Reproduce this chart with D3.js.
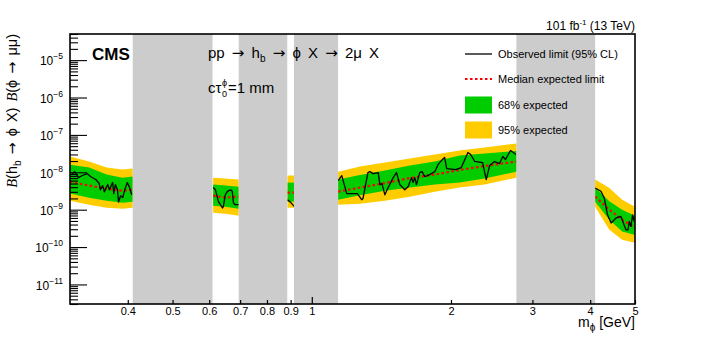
<!DOCTYPE html>
<html>
<head>
<meta charset="utf-8">
<title>h_b to phi X limits, ctau = 1 mm</title>
<style>
  body { margin: 0; background: white; }
  svg { display: block; font-family: "Liberation Sans", Arial, sans-serif; }
  .arr { font-family: "DejaVu Sans", sans-serif; }
</style>
</head>
<body>
<svg id="chart" width="706" height="338"></svg>
<script src="https://d3js.org/d3.v7.min.js"></script>
<script>
// expected limit and bands (mass grid in GeV)
const massExp = [0.30, 0.33, 0.36, 0.39, 0.41,
                 0.612, 0.65, 0.695,
                 0.886, 0.901, 0.916,
                 1.14, 1.271, 1.439, 1.629, 1.845, 2.088, 2.364, 2.772,
                 4.10, 4.40, 4.69, 5.0];
const expMedian = [5.6e-9, 4.4e-9, 3.65e-9, 3.2e-9, 3.4e-9,
                   2.37e-9, 2.1e-9, 2.24e-9,
                   2.86e-9, 2.86e-9, 2.86e-9,
                   3.04e-9, 3.89e-9, 5.13e-9, 7.0e-9, 8.7e-9, 1.15e-8, 1.47e-8, 1.94e-8,
                   2.24e-9, 1.0e-9, 5.4e-10, 3.3e-10];
const exp1Up = [1.6e-8, 1.34e-8, 8.7e-9, 7.2e-9, 7.7e-9,
                4.7e-9, 4.4e-9, 4.1e-9,
                5.3e-9, 5.3e-9, 5.3e-9,
                6.4e-9, 8.4e-9, 1.11e-8, 1.51e-8, 1.94e-8, 2.81e-8, 3.17e-8, 3.7e-8,
                3.9e-9, 1.67e-9, 1.0e-9, 6.9e-10];
const exp1Down = [2.7e-9, 2.1e-9, 1.74e-9, 1.54e-9, 1.64e-9,
                  1.28e-9, 1.2e-9, 1.06e-9,
                  1.64e-9, 1.64e-9, 1.64e-9,
                  1.85e-9, 2.45e-9, 3.2e-9, 3.89e-9, 4.7e-9, 5.3e-9, 6.8e-9, 1.04e-8,
                  1.64e-9, 5.4e-10, 2.6e-10, 2.1e-10];
const exp2Up = [2.64e-8, 1.94e-8, 1.34e-8, 1.18e-8, 1.26e-8,
                7.2e-9, 6.8e-9, 6.4e-9,
                8.2e-9, 8.2e-9, 8.2e-9,
                1.04e-8, 1.42e-8, 1.82e-8, 2.33e-8, 3.0e-8, 3.82e-8, 4.6e-8, 5.9e-8,
                6.4e-9, 3.8e-9, 1.85e-9, 1.2e-9];
const exp2Down = [1.74e-9, 1.36e-9, 1.13e-9, 1.06e-9, 1.13e-9,
                  8.3e-10, 7.8e-10, 6.9e-10,
                  1.13e-9, 1.13e-9, 1.13e-9,
                  1.36e-9, 1.45e-9, 1.74e-9, 2.23e-9, 3.04e-9, 3.89e-9, 4.7e-9, 7.2e-9,
                  1.2e-9, 2.9e-10, 1.57e-10, 1.3e-10];

// observed limit
const massObs = [0.3025, 0.307, 0.313, 0.319, 0.327, 0.332, 0.341, 0.347, 0.349, 0.353, 0.356, 0.362,
                 0.365, 0.371, 0.373, 0.376, 0.380, 0.382, 0.386, 0.390, 0.394, 0.399, 0.403, 0.408,
                 0.612, 0.619, 0.628, 0.641, 0.644, 0.650, 0.657, 0.667, 0.673, 0.677, 0.683, 0.695,
                 0.886, 0.901, 0.916,
                 1.14, 1.161, 1.190, 1.255, 1.282, 1.290, 1.3225, 1.336, 1.358, 1.392, 1.404, 1.418,
                 1.439, 1.463, 1.500, 1.525, 1.550, 1.589, 1.615, 1.643, 1.656, 1.670, 1.684, 1.712,
                 1.732, 1.755, 1.800, 1.845, 1.875, 1.907, 1.938, 1.958, 2.047, 2.106, 2.176, 2.206,
                 2.250, 2.341, 2.384, 2.424, 2.485, 2.547, 2.589, 2.624, 2.690, 2.765,
                 4.10, 4.22, 4.29, 4.36, 4.44, 4.55, 4.66, 4.78, 4.83, 4.86, 4.90, 4.94, 4.98];
const obsLimit = [8.7e-9, 1.04e-8, 7.2e-9, 8.2e-9, 9.2e-9, 7.7e-9, 6.4e-9, 5.0e-9, 3.4e-9, 4.4e-9, 3.0e-9, 4.7e-9,
                  3.4e-9, 5.3e-9, 2.7e-9, 4.7e-9, 3.4e-9, 1.6e-9, 2.35e-9, 2.1e-9, 3.4e-9, 5.3e-9, 4.1e-9, 2.5e-9,
                  3.9e-9, 3.4e-9, 1.67e-9, 1.11e-9, 1.23e-9, 2.5e-9, 3.1e-9, 3.4e-9, 3.1e-9, 1.51e-9, 1.36e-9, 1.36e-9,
                  1.85e-9, 1.55e-9, 1.23e-9,
                  6.0e-9, 8.15e-9, 2.7e-9, 2.7e-9, 1.85e-9, 1.97e-9, 9.8e-9, 1.04e-8, 9.2e-9, 9.8e-9, 4.7e-9, 5.0e-9,
                  2.5e-9, 3.9e-9, 7.2e-9, 9.8e-9, 4.7e-9, 3.4e-9, 4.1e-9, 7.2e-9, 5.3e-9, 7.2e-9, 4.7e-9, 9.8e-9,
                  1.04e-8, 7.7e-9, 8.7e-9, 1.04e-8, 1.6e-8, 2.06e-8, 2.48e-8, 1.26e-8, 1.18e-8, 1.34e-8, 3.38e-8, 3.0e-8,
                  1.97e-8, 1.82e-8, 6.4e-9, 1.51e-8, 1.94e-8, 1.71e-8, 2.64e-8, 2.2e-8, 3.82e-8, 3.0e-8,
                  3.8e-9, 3.1e-9, 2.06e-9, 7.3e-10, 4.4e-10, 6.0e-10, 6.6e-10, 2.9e-10, 2.9e-10, 4.85e-10, 3.56e-10, 7.3e-10, 4.85e-10];

// mass windows excluded from the search (GeV)
const maskedRanges = [[0.41, 0.61], [0.695, 0.885], [0.915, 1.14], [2.77, 4.1]];

const xTickValues = [0.4, 0.5, 0.6, 0.7, 0.8, 0.9, 1, 2, 3, 4, 5];
const yTickDecades = [-11, -10, -9, -8, -7, -6, -5];
const legendLabels = ["Observed limit (95% CL)", "Median expected limit", "68% expected", "95% expected"];

const width = 706;
const height = 338;
const margin = { top: 34, right: 71, bottom: 34, left: 70 };
const green = "#00cc00";
const yellow = "#ffcc00";
const grey = "#cccccc";
const PHI = "\u03d5";
const ARROW = "\u2192";

const svg = d3.select("#chart");

const x = d3.scaleLog()
  .domain([0.3, 5])
  .range([margin.left, width - margin.right]);
const y = d3.scaleLog()
  .domain([3e-12, 5e-5])
  .range([height - margin.bottom, margin.top]);

// which gap between masked windows a mass point falls in
const segOf = m => maskedRanges.filter(r => r[1] <= m).length;

const expRows = massExp.map((m, i) => ({
  m, seg: segOf(m), med: expMedian[i],
  up1: exp1Up[i], dn1: exp1Down[i], up2: exp2Up[i], dn2: exp2Down[i]
}));
const obsRows = massObs.map((m, i) => ({ m, seg: segOf(m), v: obsLimit[i] }));
const expSegs = d3.groups(expRows, d => d.seg).map(g => g[1]);
const obsSegs = d3.groups(obsRows, d => d.seg).map(g => g[1]);

svg.append("clipPath").attr("id", "frame")
  .append("rect")
  .attr("x", margin.left).attr("y", margin.top)
  .attr("width", width - margin.left - margin.right)
  .attr("height", height - margin.top - margin.bottom);

const plot = svg.append("g").attr("clip-path", "url(#frame)");

const band = (lo, hi) => d3.area()
  .x(d => x(d.m))
  .y0(d => y(d[lo]))
  .y1(d => y(d[hi]));

plot.selectAll(".band2")
  .data(expSegs)
  .enter()
  .append("path")
  .attr("d", band("dn2", "up2"))
  .attr("fill", yellow);

plot.selectAll(".band1")
  .data(expSegs)
  .enter()
  .append("path")
  .attr("d", band("dn1", "up1"))
  .attr("fill", green);

plot.selectAll(".median")
  .data(expSegs)
  .enter()
  .append("path")
  .attr("d", d3.line().x(d => x(d.m)).y(d => y(d.med)))
  .attr("fill", "none")
  .attr("stroke", "#ff0000")
  .attr("stroke-width", 2.2)
  .attr("stroke-dasharray", "2.5,2.5");

plot.selectAll(".obs")
  .data(obsSegs)
  .enter()
  .append("path")
  .attr("d", d3.line().x(d => x(d.m)).y(d => y(d.v)))
  .attr("fill", "none")
  .attr("stroke", "#000")
  .attr("stroke-width", 1.3)
  .attr("stroke-linejoin", "round");

// excluded mass windows
plot.selectAll(".mask")
  .data(maskedRanges)
  .enter()
  .append("rect")
  .attr("x", d => x(d[0]))
  .attr("width", d => x(d[1]) - x(d[0]))
  .attr("y", margin.top)
  .attr("height", height - margin.top - margin.bottom)
  .attr("fill", grey);

// x axis
const xAxis = svg.append("g")
  .attr("transform", `translate(0,${height - margin.bottom})`)
  .call(d3.axisBottom(x)
    .tickValues(xTickValues)
    .tickFormat(d => d)
    .tickSizeInner(-4)
    .tickSizeOuter(0)
    .tickPadding(3));
xAxis.select(".domain").remove();
xAxis.selectAll(".tick line").attr("y2", d => d === 1 ? -7 : -4).attr("stroke-width", 1.2);
xAxis.selectAll(".tick text").attr("font-size", 11).attr("font-family", null).attr("fill", "#000");

// y axis, decades labelled, minor ticks from the scale
const yAxis = svg.append("g")
  .attr("transform", `translate(${margin.left},0)`)
  .call(d3.axisLeft(y)
    .tickValues(y.ticks())
    .tickFormat("")
    .tickSizeInner(-8)
    .tickSizeOuter(0)
    .tickPadding(7));
yAxis.select(".domain").remove();
const isDecade = d => yTickDecades.includes(Math.round(Math.log10(d))) && Math.abs(Math.log10(d) - Math.round(Math.log10(d))) < 1e-6;
yAxis.selectAll(".tick line")
  .attr("x2", d => isDecade(d) ? 17 : 8)
  .attr("stroke-width", 1.1);
yAxis.selectAll(".tick text")
  .attr("font-family", null)
  .attr("fill", "#000")
  .attr("font-size", 12)
  .each(function (d) {
    if (!isDecade(d)) return;
    const t = d3.select(this).text(null).attr("dy", "0.4em");
    t.append("tspan").text("10");
    t.append("tspan").attr("dy", -6).attr("font-size", 8.5).text("\u2212" + Math.abs(Math.round(Math.log10(d))));
  });

// frame
svg.append("rect")
  .attr("x", margin.left).attr("y", margin.top)
  .attr("width", width - margin.left - margin.right)
  .attr("height", height - margin.top - margin.bottom)
  .attr("fill", "none")
  .attr("stroke", "#000")
  .attr("stroke-width", 1.6);

// axis titles
const yTitle = svg.append("text")
  .attr("transform", "rotate(-90)")
  .attr("x", -margin.top)
  .attr("y", 17)
  .attr("text-anchor", "end")
  .attr("word-spacing", 2)
  .attr("font-size", 14.5);
yTitle.append("tspan").attr("font-family", "Liberation Serif").attr("font-style", "italic").text("B");
yTitle.append("tspan").text("(h");
yTitle.append("tspan").attr("dy", 4).attr("font-size", 10).text("b");
yTitle.append("tspan").attr("dy", -4).text(" ");
yTitle.append("tspan").attr("class", "arr").text(ARROW);
yTitle.append("tspan").text(` ${PHI} X) `);
yTitle.append("tspan").attr("font-family", "Liberation Serif").attr("font-style", "italic").text("B");
yTitle.append("tspan").text(`(${PHI} `);
yTitle.append("tspan").attr("class", "arr").text(ARROW);
yTitle.append("tspan").text(" \u03bc\u03bc)");

const xTitle = svg.append("text")
  .attr("x", width - margin.right)
  .attr("y", 327)
  .attr("text-anchor", "end")
  .attr("font-size", 14);
xTitle.append("tspan").text("m");
xTitle.append("tspan").attr("dy", 4).attr("font-size", 10).text(PHI);
xTitle.append("tspan").attr("dy", -4).text(" [GeV]");

// luminosity label
const lumi = svg.append("text")
  .attr("x", width - margin.right)
  .attr("y", 30)
  .attr("text-anchor", "end")
  .attr("font-size", 12);
lumi.append("tspan").text("101 fb");
lumi.append("tspan").attr("dy", -5).attr("font-size", 8).text("-1");
lumi.append("tspan").attr("dy", 5).text(" (13 TeV)");

svg.append("text")
  .attr("x", 92).attr("y", 60)
  .attr("font-size", 17)
  .attr("font-weight", "bold")
  .text("CMS");

const proc = svg.append("text")
  .attr("x", 208).attr("y", 58)
  .attr("word-spacing", 3)
  .attr("font-size", 15);
proc.append("tspan").text("pp ");
proc.append("tspan").attr("class", "arr").text(ARROW);
proc.append("tspan").text(" h");
proc.append("tspan").attr("dy", 4).attr("font-size", 10).text("b");
proc.append("tspan").attr("dy", -4).text(" ");
proc.append("tspan").attr("class", "arr").text(ARROW);
proc.append("tspan").text(` ${PHI} X `);
proc.append("tspan").attr("class", "arr").text(ARROW);
proc.append("tspan").text(" 2\u03bc X");

const ctau = svg.append("text").attr("x", 208).attr("y", 93).attr("font-size", 15).text("c\u03c4");
const cx = 208 + ctau.node().getComputedTextLength() + 0.5;
svg.append("text").attr("x", cx).attr("y", 86).attr("font-size", 9).text(PHI);
svg.append("text").attr("x", cx).attr("y", 97).attr("font-size", 9).text("0");
svg.append("text").attr("x", cx + 6).attr("y", 93).attr("font-size", 15).text("=1 mm");

// legend
const legend = svg.append("g").attr("transform", "translate(465,0)");
const rowY = [54, 79, 105, 130];
legend.selectAll("text")
  .data(legendLabels)
  .enter()
  .append("text")
  .attr("x", 33)
  .attr("y", (d, i) => rowY[i] + 4)
  .attr("font-size", 11)
  .text(d => d);
legend.append("line")
  .attr("x1", 0).attr("x2", 27)
  .attr("y1", rowY[0]).attr("y2", rowY[0])
  .attr("stroke", "#000").attr("stroke-width", 1.3);
legend.append("line")
  .attr("x1", 0).attr("x2", 27)
  .attr("y1", rowY[1]).attr("y2", rowY[1])
  .attr("stroke", "#ff0000").attr("stroke-width", 2.2).attr("stroke-dasharray", "2.5,2.5");
legend.append("rect")
  .attr("x", 0).attr("y", rowY[2] - 8.5).attr("width", 27).attr("height", 17)
  .attr("fill", green);
legend.append("rect")
  .attr("x", 0).attr("y", rowY[3] - 8.5).attr("width", 27).attr("height", 17)
  .attr("fill", yellow);
</script>
</body>
</html>
